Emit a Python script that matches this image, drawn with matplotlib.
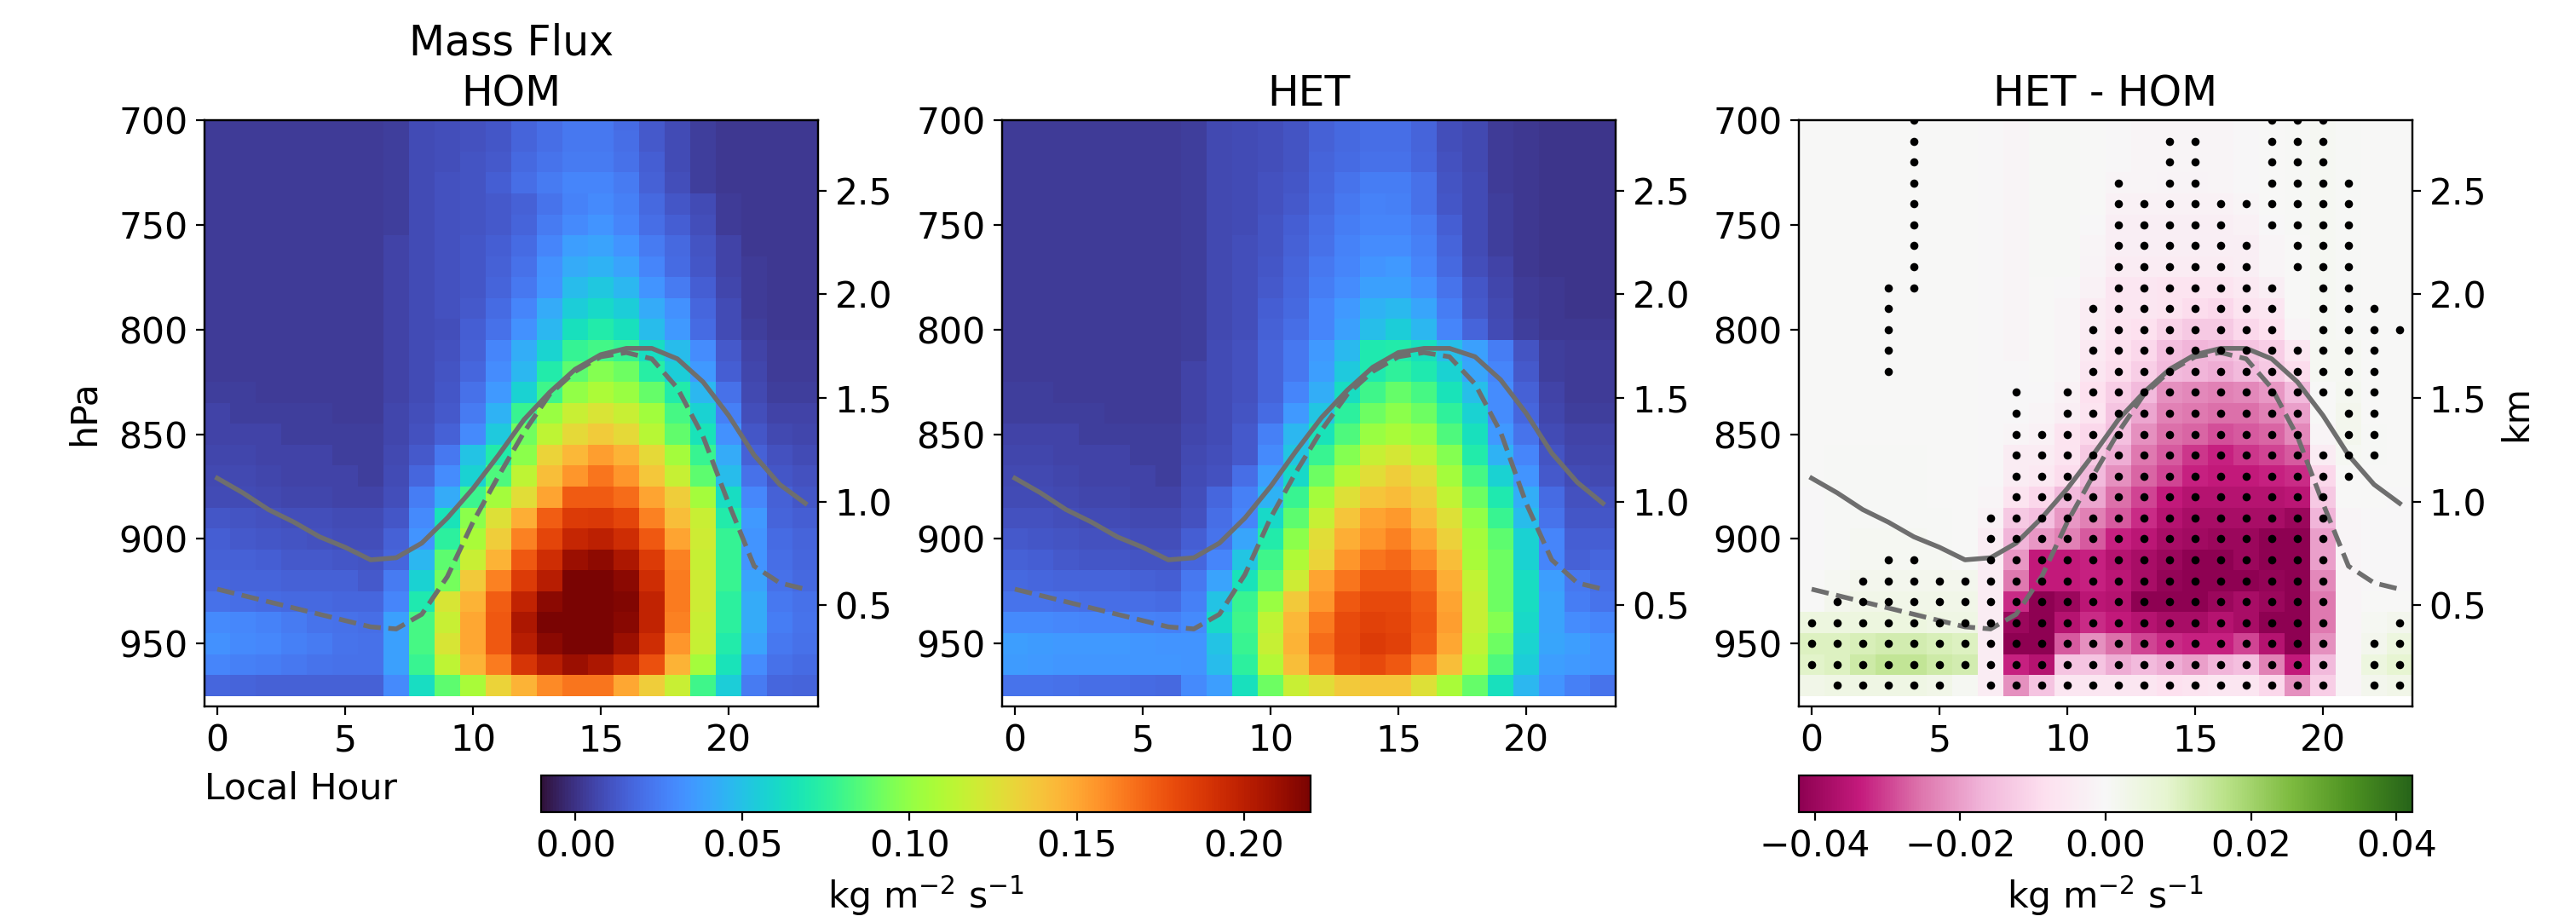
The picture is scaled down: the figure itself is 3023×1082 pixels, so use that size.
import numpy as np
import matplotlib
matplotlib.use("Agg")
import matplotlib.pyplot as plt

# local hour and pressure levels of the composite
hours = np.arange(24)
levels = np.arange(700, 980, 10)

# mass flux, units of 1e-3 kg m-2 s-1, rows top (700 hPa) to bottom (970 hPa)
mf_hom = np.array([
    [3,3,3,3,3,3,3,4,8,9,10,12,16,20,23,23,19,13,8,4,2,2,2,2],
    [3,3,3,3,3,3,3,4,8,9,10,12,16,20,23,23,20,13,8,4,2,2,2,2],
    [3,3,3,3,3,3,3,4,8,9,11,13,18,22,24,24,21,14,8,4,2,2,2,2],
    [3,3,3,3,3,3,3,4,8,10,11,14,20,24,28,28,24,15,9,4,2,2,2,2],
    [3,3,3,3,3,3,3,4,8,10,11,13,15,22,27,30,26,18,12,8,3,2,2,2],
    [3,3,3,3,3,3,3,4,8,10,11,13,16,24,30,33,28,20,14,9,3,2,2,2],
    [3,3,3,3,3,3,3,5,8,10,12,14,19,28,37,39,33,24,18,11,5,2,2,2],
    [3,3,3,3,3,3,3,5,8,10,12,15,21,32,41,44,39,28,19,12,5,3,2,2],
    [3,3,3,3,3,3,3,5,8,10,12,16,23,33,48,52,46,33,24,14,6,3,2,2],
    [3,3,3,3,3,3,3,5,8,10,13,19,28,41,55,60,55,41,32,17,8,3,2,2],
    [3,3,3,3,3,3,3,5,8,9,14,21,32,46,64,71,64,48,35,19,8,4,2,2],
    [3,3,3,3,3,3,3,5,8,10,15,28,42,58,77,81,77,62,48,31,13,5,3,3],
    [3,3,3,3,3,3,3,5,8,11,17,31,46,71,87,96,91,73,55,35,14,6,3,3],
    [4,4,3,3,3,3,3,5,8,12,21,35,57,80,100,108,102,89,71,46,21,7,4,4],
    [5,4,4,4,4,3,3,6,9,13,24,44,78,102,118,124,118,104,82,57,26,9,5,5],
    [5,5,5,4,4,4,4,6,10,15,30,53,92,114,130,136,130,112,88,66,32,12,7,6],
    [6,6,5,5,5,4,4,7,13,23,50,71,98,132,144,153,146,130,105,78,41,15,10,8],
    [7,7,6,5,5,5,4,8,17,31,57,84,114,141,156,166,156,138,117,87,48,21,12,10],
    [8,8,7,6,6,5,5,9,25,41,79,105,128,151,174,174,168,151,135,105,62,29,15,12],
    [12,11,10,9,9,8,8,12,30,66,98,126,148,173,186,187,182,162,141,118,71,35,16,14],
    [14,13,12,11,10,9,9,15,33,75,107,135,162,182,196,200,193,175,151,120,77,33,19,16],
    [15,15,14,13,13,12,11,17,46,87,118,146,175,193,211,214,205,186,162,117,77,33,20,17],
    [17,16,16,15,15,15,13,24,57,93,137,162,186,202,220,220,215,193,164,120,78,39,21,18],
    [21,20,19,18,18,17,17,28,69,123,146,173,198,215,220,220,218,198,164,120,75,41,23,21],
    [30,29,27,24,22,21,20,38,82,118,150,175,205,220,220,220,216,198,162,118,75,41,25,22],
    [32,30,29,26,24,22,21,38,82,123,150,175,202,215,220,220,211,193,156,117,71,39,23,21],
    [28,26,25,23,22,21,21,38,78,114,146,164,189,202,211,205,195,177,146,105,66,31,21,19],
    [17,16,15,15,15,15,15,30,62,87,107,132,146,159,166,166,150,135,118,80,55,24,17,16],
]) * 1e-3

mf_het = np.array([
    [3,3,3,3,3,3,3,4,7,8,9,11,15,18,20,20,16,9,7,3,2,1,1,1],
    [3,3,3,3,3,3,3,4,7,8,9,11,15,18,20,20,16,9,7,3,2,1,1,1],
    [3,3,3,3,3,3,3,4,7,8,9,11,16,19,21,21,17,10,7,3,2,1,1,1],
    [3,3,3,3,3,3,3,4,7,8,10,12,17,22,25,25,21,11,8,3,2,1,1,1],
    [3,3,3,3,3,3,3,4,7,8,10,13,18,23,27,26,21,12,8,4,2,1,1,1],
    [3,3,3,3,3,3,3,4,7,8,11,14,20,25,28,28,24,14,8,4,2,1,1,1],
    [3,3,3,3,3,3,3,4,7,9,11,15,21,27,31,31,26,16,8,4,2,1,1,1],
    [3,3,3,3,3,3,3,4,7,9,12,16,23,28,33,35,28,18,9,5,2,1,1,1],
    [3,3,3,3,3,3,3,4,7,9,13,17,25,31,38,38,32,22,12,6,3,2,1,1],
    [3,3,3,3,3,3,3,4,7,9,14,18,28,35,44,47,40,25,13,7,3,2,1,1],
    [3,3,3,3,3,3,3,4,7,9,15,20,28,38,49,55,46,28,16,8,4,2,2,2],
    [3,3,3,3,3,3,3,4,8,10,16,23,35,47,69,71,64,49,38,25,11,4,3,3],
    [3,3,3,3,3,3,3,5,8,10,16,23,37,53,69,76,69,57,40,28,13,4,3,3],
    [4,4,3,3,3,3,3,5,8,10,16,28,42,62,80,89,82,66,49,31,15,5,3,3],
    [4,4,4,4,3,3,3,5,8,11,19,35,51,75,91,98,91,76,57,31,17,6,4,4],
    [5,5,5,4,4,4,4,6,8,13,26,46,66,84,102,107,102,84,64,35,22,8,5,5],
    [6,6,5,5,5,4,4,7,9,13,30,51,78,96,117,122,114,96,71,44,28,11,6,6],
    [7,7,6,5,5,5,4,8,10,20,37,60,91,111,128,135,128,105,82,57,33,13,8,7],
    [8,8,7,6,6,5,5,9,17,26,44,78,105,126,139,142,135,115,91,69,42,19,10,10],
    [10,10,9,8,8,7,7,10,20,28,60,87,117,139,151,155,142,126,100,78,48,22,12,12],
    [13,12,11,10,10,9,9,14,22,40,71,98,128,148,156,162,151,133,105,87,57,28,14,14],
    [15,14,13,12,12,11,11,17,28,51,80,109,132,156,166,169,159,141,107,91,57,28,15,17],
    [18,17,16,16,16,15,14,23,39,66,87,120,151,166,175,175,168,148,115,91,62,37,23,20],
    [22,22,21,20,20,20,19,26,50,78,102,137,156,175,180,180,173,151,117,91,62,39,25,22],
    [30,30,29,28,28,27,26,30,60,80,114,144,164,179,184,182,175,153,117,96,60,39,31,28],
    [37,36,35,35,35,34,33,33,50,78,117,146,168,180,186,184,173,150,114,91,58,40,37,33],
    [36,35,34,34,34,34,34,33,48,75,111,141,162,177,180,175,162,141,109,84,55,37,35,33],
    [22,22,21,20,20,19,18,30,37,64,91,118,128,137,139,139,126,107,89,64,46,33,26,22],
]) * 1e-3

# HET - HOM, same units
mf_diff = np.array([
    [0,0,0,0,0,0,0,-.5,-1,.5,.5,0,-.5,-1,-1,-1,-1,-.5,0,.5,1,.5,0,0],
    [0,0,0,0,0,0,0,-.5,-1,.5,.5,0,-.5,-1,-1,-1,-1,-.5,0,.5,1,.5,0,0],
    [0,0,0,0,0,0,0,-.5,-1,.5,.5,0,-.5,-1,-1,-1,-1,-.5,0,.5,1,.5,0,0],
    [0,0,0,0,0,0,0,-.5,-1,.5,.5,0,-1,-1,-1.5,-1.5,-1,-.5,0,.5,1,.5,0,0],
    [0,0,0,0,0,0,0,-.5,-1,.5,.5,0,-2,-2,-2,-2,-2,-1,0,.5,1,.5,0,0],
    [0,0,0,0,0,0,0,-.5,-1,.5,.5,-.5,-3,-3,-3,-3,-3,-2,-.5,.5,1,.5,0,0],
    [0,0,0,0,0,0,0,-.5,-1,.5,.5,-1,-3,-3,-3.5,-3.5,-3.5,-3,-1,0,1,.5,0,0],
    [0,0,0,0,0,0,0,-.5,-1,.5,.5,-1.5,-4,-4,-4,-4,-4,-3,-1,0,1,.5,0,0],
    [0,0,0,0,0,0,0,-.5,-1,0,-.5,-2,-6,-6,-7,-7,-7,-5,-3,0,1,.5,0,0],
    [0,0,0,0,0,0,0,-.5,-1,0,-1,-4,-6,-6,-7,-9,-10,-7,-6,0,1,.5,0,0],
    [0,0,0,0,0,0,0,-.5,-1,0,-1,-4,-7,-8,-11,-13,-13,-10,-8,-1,1,.5,0,0],
    [0,0,0,0,0,0,0,-.5,-1,0,-1,-5,-8,-10,-15,-17,-16,-14,-12,-6,1,1,0,0],
    [0,0,0,0,0,0,0,-.5,-.5,0,-1,-6,-9,-12,-16,-17,-18,-16,-13,-9,1,1,0,0],
    [0,0,0,0,0,0,0,-.5,-.5,-.5,-2,-8,-12,-16,-22,-23,-24,-23,-21,-16,0,1.5,0,0],
    [0,0,0,0,0,0,0,-.5,-.5,-1,-3,-7,-14,-19,-24,-25,-26,-26,-24,-20,0,2,0,0],
    [0,0,0,0,0,0,0,-.5,-1,-2,-7,-10,-15,-22,-26,-27,-29,-28,-27,-23,-1,2,.5,0],
    [0,.5,.5,.5,.5,0,0,-.5,-4,-4,-7,-13,-18,-25,-28,-31,-33,-31,-30,-28,-4,1,.5,0],
    [0,.5,.5,.5,.5,0,0,-.5,-4,-5,-9,-16,-22,-27,-30,-33,-34,-34,-33,-32,-10,0,0,0],
    [-.5,.5,.5,.5,.5,0,0,-1,-7,-10,-16,-19,-26,-30,-34,-36,-36,-36,-36,-35,-13,0,0,-.5],
    [-.5,.5,.5,.5,.5,.5,0,-2,-13,-15,-21,-24,-28,-32,-36,-38,-38,-38,-38,-40,-17,-1,-.5,-.5],
    [-.5,.5,1,1,1,.5,0,-4,-17,-21,-24,-28,-33,-35,-38,-39,-40,-40,-42,-42,-20,-1,-.5,-.5],
    [-.5,.5,1,1,1,1,.5,-4,-21,-34,-34,-33,-36,-38,-40,-42,-42,-40,-42,-42,-20,-1,-.5,-.5],
    [0,1,2,2,2,2,2,-4,-25,-34,-34,-33,-35,-38,-41,-42,-42,-42,-41,-42,-23,-1,-.5,-.5],
    [0,2,3,3,3,3,3,-4,-32,-42,-40,-35,-36,-42,-42,-42,-40,-38,-40,-42,-25,-1,0,0],
    [5,5,5,5,5,4,4,-4,-40,-42,-36,-32,-34,-36,-38,-38,-36,-38,-42,-42,-25,-1,1,2],
    [10,10,11,12,12,11,10,-4,-42,-42,-28,-22,-26,-30,-32,-33,-33,-30,-36,-42,-22,-1,2,5],
    [9,10,13,15,15,13,12,-4,-33,-36,-14,-14,-18,-16,-18,-20,-17,-15,-24,-34,-16,-1,5,8],
    [3,4,4,4,4,3,1,-4,-22,-14,-6,-6,-6,-6,-8,-7,-6,-6,-10,-22,-12,-1,2,3],
]) * 1e-3

# rows (index into levels) that carry a significance dot, one list per hour
sig_rows = [
    [24,25,26],
    [23,24,25,26,27],
    [22,23,24,25,26,27],
    [8,9,10,11,12,21,22,23,24,25,26,27],
    [0,1,2,3,4,5,6,7,8,21,22,23,24,25,26,27],
    [22,23,24,25,26,27],
    [22,23,24,25,26],
    [19,20,21,22,23,24,25,26,27],
    [13,14,15,16,17,18,19,20,21,22,23,24,25,26,27],
    [15,16,17,18,19,20,21,22,23,24,25,26,27],
    [13,14,15,16,17,18,19,20,21,22,23,24,25,26,27],
    [9,10,11,12,13,14,15,16,17,18,19,20,21,22,23,24,25,26,27],
    [3,4,5,6,7,8,9,10,11,12,13,14,15,16,17,18,19,20,21,22,23,24,25,26,27],
    [4,5,6,7,8,9,10,11,12,13,14,15,16,17,18,19,20,21,22,23,24,25,26,27],
    [1,2,3,4,5,6,7,8,9,10,11,12,13,14,15,16,17,18,19,20,21,22,23,24,25,26,27],
    [1,2,3,4,5,6,7,8,9,10,11,12,13,14,15,16,17,18,19,20,21,22,23,24,25,26,27],
    [4,5,6,7,8,9,10,11,12,13,14,15,16,17,18,19,20,21,22,23,24,25,26,27],
    [4,6,7,8,9,10,11,12,13,14,15,16,17,18,19,20,21,22,23,24,25,26,27],
    [0,1,2,3,4,5,8,9,10,11,12,13,14,15,16,17,18,19,20,21,22,23,24,25,26,27],
    [0,1,2,3,4,5,6,7,11,12,13,14,15,16,17,18,19,20,21,22,23,24,25,26,27],
    [0,1,2,3,4,5,6,7,8,9,10,11,12,13,16,17,18,19,20,21,22,23,24,25,26,27],
    [3,4,5,6,7,8,9,10,11,12,13,14,15,16,17],
    [9,10,11,12,13,14,15,16,25,26,27],
    [10,24,25,26,27],
]

# boundary layer top (solid) and LCL-like height (dashed), hPa
pbl_hom = [871,878,886,892,899,904,910,909,902,890,876,860,843,830,819,812,809,809,814,825,841,860,874,883]
lcl_hom = [924,927,930,933,936,939,942,943,936,918,892,870,849,831,820,813,811,814,828,851,883,913,921,924]
pbl_het = [871,878,886,892,899,904,910,909,902,890,875,858,842,829,818,811,809,809,813,824,840,859,873,883]
lcl_het = [924,927,930,933,936,939,942,943,936,917,890,868,848,831,820,813,811,813,826,849,883,910,921,924]

hpa_ticks = [700,750,800,850,900,950]
km_ticks = [0.5,1.0,1.5,2.0,2.5]
hour_ticks = [0,5,10,15,20]

W, H = 3023, 1082
plt.rcParams['font.size'] = 15.3
line_col = '#6e6e6e'


def px_axes(left, right, top, bottom):
    # axes from pixel edges of the reference
    return fig.add_axes([left / W, 1 - bottom / H, (right - left) / W, (bottom - top) / H])


def panel(left, title, data, cmap, vmin, vmax, solid, dashed):
    ax = px_axes(left, left + 720, 141, 829)
    mesh = ax.pcolormesh(hours, levels, data, cmap=cmap, vmin=vmin, vmax=vmax, shading='nearest')
    ax.plot(hours, solid, color=line_col, lw=2)
    ax.plot(hours, dashed, color=line_col, lw=2, ls='--')
    ax.set_xlim(-0.5, 23.5)
    ax.set_ylim(980, 700)
    ax.set_xticks(hour_ticks)
    ax.set_yticks(hpa_ticks)
    ax.set_title(title, fontsize=17.6, pad=6, linespacing=1.3)
    ax2 = ax.twinx()
    ax2.set_ylim(0.012, 2.84)
    ax2.set_yticks(km_ticks)
    return ax, ax2, mesh


fig = plt.figure(figsize=(W / 200, H / 200), dpi=200)

ax1, _, mesh1 = panel(240, 'Mass Flux\nHOM', mf_hom, 'turbo', -0.0103, 0.22, pbl_hom, lcl_hom)
ax1.set_ylabel('hPa', labelpad=7)
fig.text(240 / W, 1 - 925 / H, 'Local Hour', ha='left', va='center')

panel(1176, 'HET', mf_het, 'turbo', -0.0103, 0.22, pbl_het, lcl_het)

ax3, ax3r, mesh3 = panel(2111, 'HET - HOM', mf_diff, 'PiYG', -0.0422, 0.0422, pbl_hom, lcl_hom)
ax3r.set_ylabel('km', labelpad=5)
dot_x = [hours[h] for h, rows in enumerate(sig_rows) for r in rows]
dot_y = [levels[r] for rows in sig_rows for r in rows]
ax3.scatter(dot_x, dot_y, s=12, color='k', linewidths=0, zorder=3)

cax1 = px_axes(635, 1538, 910, 953)
cb1 = fig.colorbar(mesh1, cax=cax1, orientation='horizontal')
cb1.set_ticks([0.00, 0.05, 0.10, 0.15, 0.20])
cb1.set_label('kg m$^{-2}$ s$^{-1}$')

cax3 = px_axes(2111, 2831, 910, 953)
cb3 = fig.colorbar(mesh3, cax=cax3, orientation='horizontal')
cb3.set_ticks([-0.04, -0.02, 0.00, 0.02, 0.04])
cb3.set_label('kg m$^{-2}$ s$^{-1}$')

fig.savefig('out.png', dpi=200)
